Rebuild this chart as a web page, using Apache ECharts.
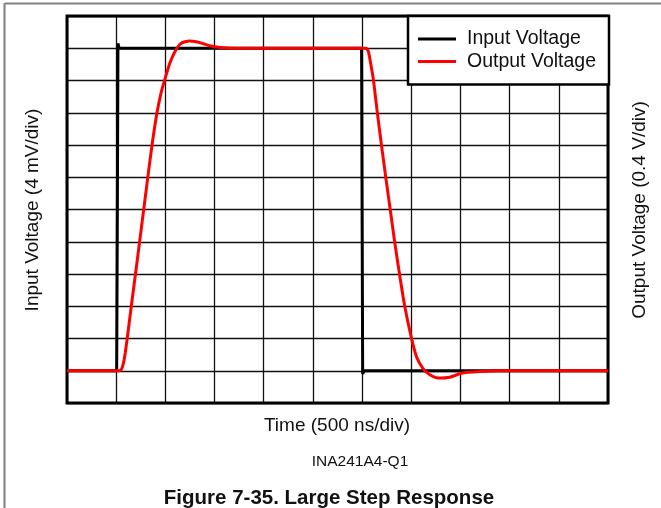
<!DOCTYPE html>
<html>
<head>
<meta charset="utf-8">
<script src="https://cdn.jsdelivr.net/npm/echarts@6/dist/echarts.min.js"></script>
<style>
  html, body { margin: 0; padding: 0; background: #fff; }
  #chart { width: 661px; height: 508px; }
</style>
</head>
<body>
<div id="chart"></div>
<script>
// Time axis: 11 divisions of 500 ns
const timeMin = 0;
const timeMax = 5500;
const timeStep = 500;

// Input voltage axis (left): 4 mV/div, 12 divisions
const inMin = 0, inMax = 48, inStep = 4;
// Output voltage axis (right): 0.4 V/div, 12 divisions
const outMin = 0, outMax = 4.8, outStep = 0.4;

const seriesNames = ['Input Voltage', 'Output Voltage'];

// Input step (time ns, mV)
const inputTime = [0, 505, 512, 518, 530, 2995, 3000, 3006, 3020, 5500];
const inputMv   = [4, 4,   24,  44.6, 44,  44,   24,   3.6,  4,    4];

// Output response (time ns, V)
const outputTime = [0, 530, 555, 575, 592, 610, 660, 710, 760, 810, 860, 912, 955, 996, 1047, 1098, 1148, 1200, 1250, 1300, 1352, 1453, 1555, 1707, 2000,
  3040, 3064, 3086, 3115, 3155, 3199, 3244, 3286, 3331, 3379, 3435, 3501, 3554, 3618, 3689, 3773, 3892, 4011, 4197, 4400, 5500];
const outputV = [0.40, 0.40, 0.42, 0.50, 0.62, 0.78, 1.26, 1.73, 2.21, 2.69, 3.16, 3.58, 3.84, 4.02, 4.22, 4.36, 4.45, 4.48, 4.49, 4.485, 4.47, 4.43, 4.41, 4.40, 4.40,
  4.40, 4.36, 4.22, 4.01, 3.60, 3.18, 2.77, 2.40, 2.00, 1.61, 1.19, 0.81, 0.57, 0.43, 0.35, 0.31, 0.32, 0.37, 0.39, 0.40, 0.40];

const inputData = inputTime.map((t, i) => [t, inputMv[i]]);
const outputData = outputTime.map((t, i) => [t, outputV[i]]);

const FONT = '"Liberation Sans", Arial, sans-serif';
const chart = echarts.init(document.getElementById('chart'), null, { renderer: 'canvas' });

const gridLine = { show: true, lineStyle: { color: '#111', width: 1.3 } };

chart.setOption({
  backgroundColor: '#fff',
  animation: false,
  grid: {
    left: 67, top: 16, width: 541, height: 387,
    show: true, borderColor: '#000', borderWidth: 3, backgroundColor: 'transparent', z: 3
  },
  xAxis: {
    type: 'value', min: timeMin, max: timeMax, interval: timeStep,
    axisLine: { show: false }, axisTick: { show: false }, axisLabel: { show: false },
    splitLine: gridLine
  },
  yAxis: [
    {
      type: 'value', min: inMin, max: inMax, interval: inStep, position: 'left',
      axisLine: { show: false }, axisTick: { show: false }, axisLabel: { show: false },
      splitLine: gridLine
    },
    {
      type: 'value', min: outMin, max: outMax, interval: outStep, position: 'right',
      axisLine: { show: false }, axisTick: { show: false }, axisLabel: { show: false },
      splitLine: { show: false }
    }
  ],
  legend: {
    orient: 'vertical',
    left: 408, top: 16,
    data: seriesNames,
    icon: 'rect',
    itemWidth: 38, itemHeight: 3,
    itemGap: 0.5,
    padding: [12, 10, 12, 10],
    backgroundColor: '#fff',
    borderColor: '#000', borderWidth: 2.5,
    textStyle: { fontFamily: FONT, fontSize: 19.5, color: '#111', lineHeight: 22, width: 132, padding: [0, 0, 0, 6] },
    z: 10
  },
  series: [
    {
      name: seriesNames[0], type: 'line', yAxisIndex: 0, data: inputData,
      showSymbol: false, symbol: 'none',
      lineStyle: { color: '#000', width: 3 }, itemStyle: { color: '#000' }, z: 4
    },
    {
      name: seriesNames[1], type: 'line', yAxisIndex: 1, data: outputData,
      showSymbol: false, symbol: 'none', smooth: 0.2,
      lineStyle: { color: '#ff0000', width: 3 }, itemStyle: { color: '#ff0000' }, z: 5
    }
  ],
  graphic: [
    { type: 'line', shape: { x1: 5, y1: 3.5, x2: 661, y2: 3.5 }, style: { stroke: '#808080', lineWidth: 2 } },
    { type: 'line', shape: { x1: 4.5, y1: 3, x2: 4.5, y2: 508 }, style: { stroke: '#808080', lineWidth: 2 } },
    { type: 'text', x: 33, y: 210, rotation: Math.PI / 2,
      style: { text: 'Input Voltage (4 mV/div)', font: '19px ' + FONT, fill: '#111', textAlign: 'center', textVerticalAlign: 'middle' } },
    { type: 'text', x: 640, y: 210, rotation: Math.PI / 2,
      style: { text: 'Output Voltage (0.4 V/div)', font: '19px ' + FONT, fill: '#111', textAlign: 'center', textVerticalAlign: 'middle' } },
    { type: 'text', x: 337, y: 426,
      style: { text: 'Time (500 ns/div)', font: '19px ' + FONT, fill: '#111', textAlign: 'center', textVerticalAlign: 'middle' } },
    { type: 'text', x: 360, y: 462,
      style: { text: 'INA241A4-Q1', font: '15.5px ' + FONT, fill: '#111', textAlign: 'center', textVerticalAlign: 'middle' } },
    { type: 'text', x: 329, y: 498,
      style: { text: 'Figure 7-35. Large Step Response', font: 'bold 20.5px ' + FONT, fill: '#111', textAlign: 'center', textVerticalAlign: 'middle' } }
  ]
});
</script>
</body>
</html>
